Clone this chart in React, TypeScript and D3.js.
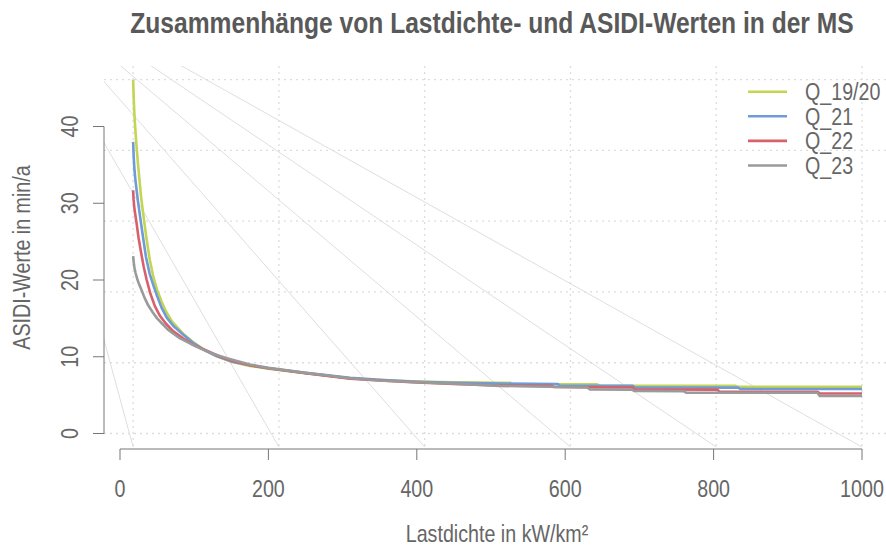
import * as d3 from "d3";

type Pt = [number, number];

const X_TICKS = [0, 200, 400, 600, 800, 1000];
const Y_TICKS = [0, 10, 20, 30, 40];
const SERIES_NAMES = ["Q_19/20", "Q_21", "Q_22", "Q_23"];
const SERIES_COLORS = ["#c3d552", "#6f9bd8", "#d8606b", "#9a9a9a"];

// Lastdichte (kW/km²) vs ASIDI (min/a)
const Q_19_20: Pt[] = [
  [17.7, 46.1], [18.5, 43.6], [19.3, 41.8], [20.2, 40.3], [22, 37.8], [24, 35.4], [26, 33.3],
  [28, 31.2], [31, 28.8], [35, 25.9], [40, 22.7], [45, 20.4], [50, 18.7], [56, 17.2],
  [62, 15.9], [70, 14.6], [85, 13.0], [100, 11.8], [112, 11.0], [130, 10.1], [150, 9.35],
  [175, 8.8], [200, 8.45], [250, 7.85], [310, 7.2], [350, 6.98], [400, 6.78], [450, 6.68],
  [512, 6.62], [526, 6.62], [529, 6.41], [643, 6.41], [646, 6.23], [829, 6.23], [832, 6.1],
  [1000, 6.1],
];
const Q_21: Pt[] = [
  [17.7, 38.0], [18.5, 36.0], [19.5, 34.3], [20.8, 33.0], [22.5, 31.6], [24, 30.4], [26, 29.0],
  [28, 27.6], [31, 25.6], [35, 23.0], [40, 20.8], [45, 19.3], [50, 17.9], [56, 16.4],
  [63, 15.1], [72, 14.0], [85, 12.9], [100, 11.7], [115, 10.8], [130, 10.1], [150, 9.4],
  [175, 8.9], [200, 8.5], [250, 7.9], [310, 7.25], [350, 7.0], [400, 6.75], [450, 6.6],
  [512, 6.5], [590, 6.45], [593, 6.23], [691, 6.2], [694, 6.0], [833, 5.98], [836, 5.8],
  [1000, 5.8],
];
const Q_22: Pt[] = [
  [17.7, 31.7], [18.3, 30.5], [19.2, 29.5], [20.5, 28.6], [22.5, 27.3], [25, 25.5], [28, 23.8],
  [32, 21.7], [36, 20.0], [41, 18.2], [47, 16.6], [54, 15.3], [62, 14.3], [72, 13.3],
  [85, 12.4], [100, 11.5], [117, 10.8], [135, 10.0], [150, 9.5], [175, 8.9], [200, 8.5],
  [250, 7.85], [310, 7.15], [350, 6.9], [400, 6.65], [450, 6.45], [512, 6.25], [582, 6.2],
  [585, 6.05], [691, 6.0], [694, 5.75], [805, 5.72], [808, 5.45], [940, 5.42], [943, 5.22],
  [1000, 5.22],
];
const Q_23: Pt[] = [
  [17.7, 23.1], [18.5, 22.3], [19.5, 21.6], [21, 20.9], [23, 20.2], [25.5, 19.5], [29, 18.7],
  [33, 17.7], [38, 16.7], [44, 15.8], [50, 15.0], [57, 14.3], [64, 13.6], [72, 13.0],
  [81, 12.4], [95, 11.7], [108, 11.1], [125, 10.4], [144, 9.8], [175, 9.0], [200, 8.55],
  [250, 7.9], [310, 7.2], [350, 6.9], [400, 6.7], [450, 6.5], [512, 6.2], [630, 6.0],
  [633, 5.75], [690, 5.7], [693, 5.55], [760, 5.5], [763, 5.33], [940, 5.3], [943, 4.88],
  [1000, 4.88],
];

// point (in data units) the light background rays fan out from
const RAY_ORIGIN: Pt = [-159, 61];

const W = 886;
const H = 547;
const FONT = "'Liberation Sans', Arial, sans-serif";
const TEXT = "#666666";
const AXIS = "#777777";
const NARROW = 0.82;

// condensed text, like the narrow sans of the original plot
function NText({
  x, y, rotate = 0, size = 24, anchor = "middle", weight = "normal", fill = TEXT, squeeze = NARROW, children,
}: {
  x: number; y: number; rotate?: number; size?: number; anchor?: string; weight?: string;
  fill?: string; squeeze?: number; children: React.ReactNode;
}) {
  return (
    <text
      transform={`translate(${x},${y}) rotate(${rotate}) scale(${squeeze},1)`}
      textAnchor={anchor}
      fontSize={size}
      fontWeight={weight}
      fill={fill}
    >
      {children}
    </text>
  );
}

export default function App() {
  const plot = { left: 104, right: 891, top: 66, bottom: 449 };
  const x = d3.scaleLinear().domain([0, 1000]).range([120, 862]);
  const y = d3.scaleLinear().domain([0, 40]).range([433.5, 126.5]);

  const series = [Q_19_20, Q_21, Q_22, Q_23];
  const all = series.flat();
  const xMin = d3.min(all, (d) => d[0]) ?? 0;
  const xMax = d3.max(all, (d) => d[0]) ?? 1000;
  const yMax = d3.max(all, (d) => d[1]) ?? 40;
  const gridX = d3.range(6).map((i) => xMin + (i * (xMax - xMin)) / 5);
  const gridY = d3.range(6).map((i) => (i * yMax) / 5);
  const rayEndY = y.invert(plot.bottom - 2);

  const line = d3
    .line<Pt>()
    .x((d) => x(d[0]))
    .y((d) => y(d[1]));

  const xAxisY = plot.bottom;
  const yAxisX = plot.left;

  return (
    <svg
      width={W}
      height={H}
      style={{ position: "absolute", left: 0, top: 0, background: "#fff" }}
      fontFamily={FONT}
    >
      <defs>
        <clipPath id="plot-clip">
          <rect x={plot.left} y={plot.top} width={plot.right - plot.left} height={plot.bottom - plot.top} />
        </clipPath>
      </defs>

      <NText x={492} y={33} size={28.8} weight="bold" fill="#595959" squeeze={0.855}>
        Zusammenhänge von Lastdichte- und ASIDI-Werten in der MS
      </NText>

      <g clipPath="url(#plot-clip)">
        {gridX.map((v, i) => (
          <line key={`gx${i}`} x1={x(v)} x2={x(v)} y1={plot.top} y2={plot.bottom}
            stroke="#dddddd" strokeWidth={1.3} strokeDasharray="2 4" />
        ))}
        {gridY.map((v, i) => (
          <line key={`gy${i}`} x1={plot.left} x2={plot.right} y1={y(v)} y2={y(v)}
            stroke="#dddddd" strokeWidth={1.3} strokeDasharray="2 4" />
        ))}
        {gridX.map((v, i) => (
          <line key={`ray${i}`} x1={x(RAY_ORIGIN[0])} y1={y(RAY_ORIGIN[1])} x2={x(v)} y2={y(rayEndY)}
            stroke="#dedede" strokeWidth={1} />
        ))}
        {series.map((s, i) => (
          <path key={SERIES_NAMES[i]} d={line(s) ?? ""} fill="none" stroke={SERIES_COLORS[i]}
            strokeWidth={2.6} strokeLinejoin="round" />
        ))}
      </g>

      {/* x axis */}
      <line x1={x(X_TICKS[0])} x2={x(X_TICKS[X_TICKS.length - 1])} y1={xAxisY} y2={xAxisY} stroke={AXIS} />
      {X_TICKS.map((t) => (
        <g key={`xt${t}`}>
          <line x1={x(t)} x2={x(t)} y1={xAxisY} y2={xAxisY + 11} stroke={AXIS} />
          <NText x={x(t)} y={497}>{t}</NText>
        </g>
      ))}
      <NText x={497} y={542}>Lastdichte in kW/km²</NText>

      {/* y axis */}
      <line x1={yAxisX} x2={yAxisX} y1={y(Y_TICKS[0])} y2={y(Y_TICKS[Y_TICKS.length - 1])} stroke={AXIS} />
      {Y_TICKS.map((t) => (
        <g key={`yt${t}`}>
          <line x1={yAxisX - 11} x2={yAxisX} y1={y(t)} y2={y(t)} stroke={AXIS} />
          <NText x={78} y={y(t)} rotate={-90}>{t}</NText>
        </g>
      ))}
      <NText x={30} y={(plot.top + plot.bottom) / 2} rotate={-90}>ASIDI-Werte in min/a</NText>

      {/* legend */}
      {SERIES_NAMES.map((name, i) => {
        const ly = 91.7 + i * 24.6;
        return (
          <g key={`lg${name}`}>
            <line x1={748} x2={787} y1={ly} y2={ly} stroke={SERIES_COLORS[i]} strokeWidth={2.6} />
            <NText x={805} y={ly + 8.5} anchor="start">{name}</NText>
          </g>
        );
      })}
    </svg>
  );
}
